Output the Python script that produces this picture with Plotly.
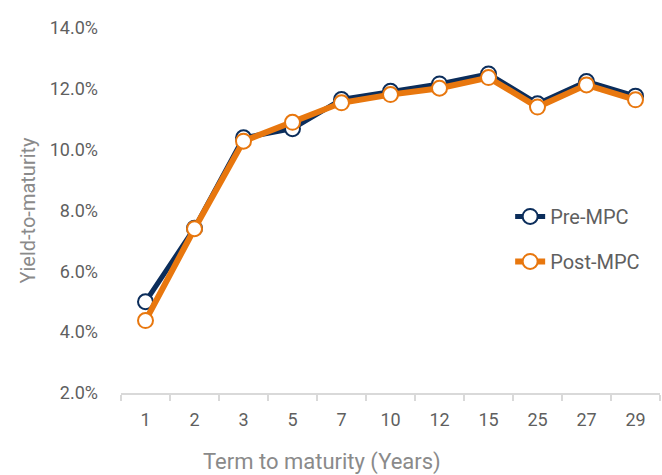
import plotly.graph_objects as go

# Government bond yield curve before and after the MPC decision
terms = ["1", "2", "3", "5", "7", "10", "12", "15", "25", "27", "29"]
pre_mpc = [5.00, 7.42, 10.39, 10.69, 11.65, 11.92, 12.16, 12.49, 11.51, 12.24, 11.76]
post_mpc = [4.38, 7.40, 10.28, 10.90, 11.54, 11.81, 12.02, 12.37, 11.40, 12.13, 11.64]

NAVY = "#0b2d5b"
ORANGE = "#e8770e"
TICK_GREY = "#5f5f5f"
TITLE_GREY = "#8a8a8a"
AXIS_GREY = "#d9d9d9"
FONT = "Roboto"

fig = go.Figure()
fig.add_trace(go.Scatter(
    x=terms, y=pre_mpc, name="Pre-MPC", mode="lines+markers",
    legendgroup="pre",
    line=dict(color=NAVY, width=5),
    marker=dict(size=15, color="white", line=dict(color=NAVY, width=2)),
))
fig.add_trace(go.Scatter(
    x=terms, y=post_mpc, name="Post-MPC", mode="lines+markers",
    legendgroup="post",
    line=dict(color=ORANGE, width=6),
    marker=dict(size=15, color="white", line=dict(color=ORANGE, width=2)),
))

fig.update_layout(
    width=662, height=475,
    margin=dict(l=121, r=2, t=28, b=82, autoexpand=False),
    plot_bgcolor="white", paper_bgcolor="white",
    font=dict(family=FONT, color=TICK_GREY, size=17),
    showlegend=True,
    legend=dict(
        x=0.722, y=0.422, xanchor="left", yanchor="middle",
        bgcolor="rgba(0,0,0,0)",
        font=dict(size=20, color=TICK_GREY),
        traceorder="grouped", tracegroupgap=16,
    ),
    xaxis=dict(
        type="category", automargin=False,
        range=[-0.5, len(terms) - 0.5],
        showgrid=False, zeroline=False,
        showline=True, linecolor=AXIS_GREY, linewidth=1.5,
        ticks="outside", tickson="boundaries", ticklen=6,
        tickcolor=AXIS_GREY, tickwidth=1.5,
        ticklabelstandoff=10,
        tickfont=dict(size=18, color=TICK_GREY),
    ),
    yaxis=dict(
        range=[2, 14], dtick=2, automargin=False,
        tickformat=".1f", ticksuffix="%",
        showgrid=False, zeroline=False, showline=False,
        ticks="", ticklabelstandoff=22,
        tickfont=dict(size=18, color=TICK_GREY),
        title=dict(text="Yield-to-maturity", standoff=8,
                   font=dict(size=20, color=TITLE_GREY)),
    ),
    annotations=[dict(
        text="Term to maturity (Years)",
        xref="paper", yref="paper", x=0.373, y=-0.188,
        xanchor="center", yanchor="middle", showarrow=False,
        font=dict(size=22, color=TITLE_GREY, family=FONT),
    )],
)

fig.write_html("out.html")
